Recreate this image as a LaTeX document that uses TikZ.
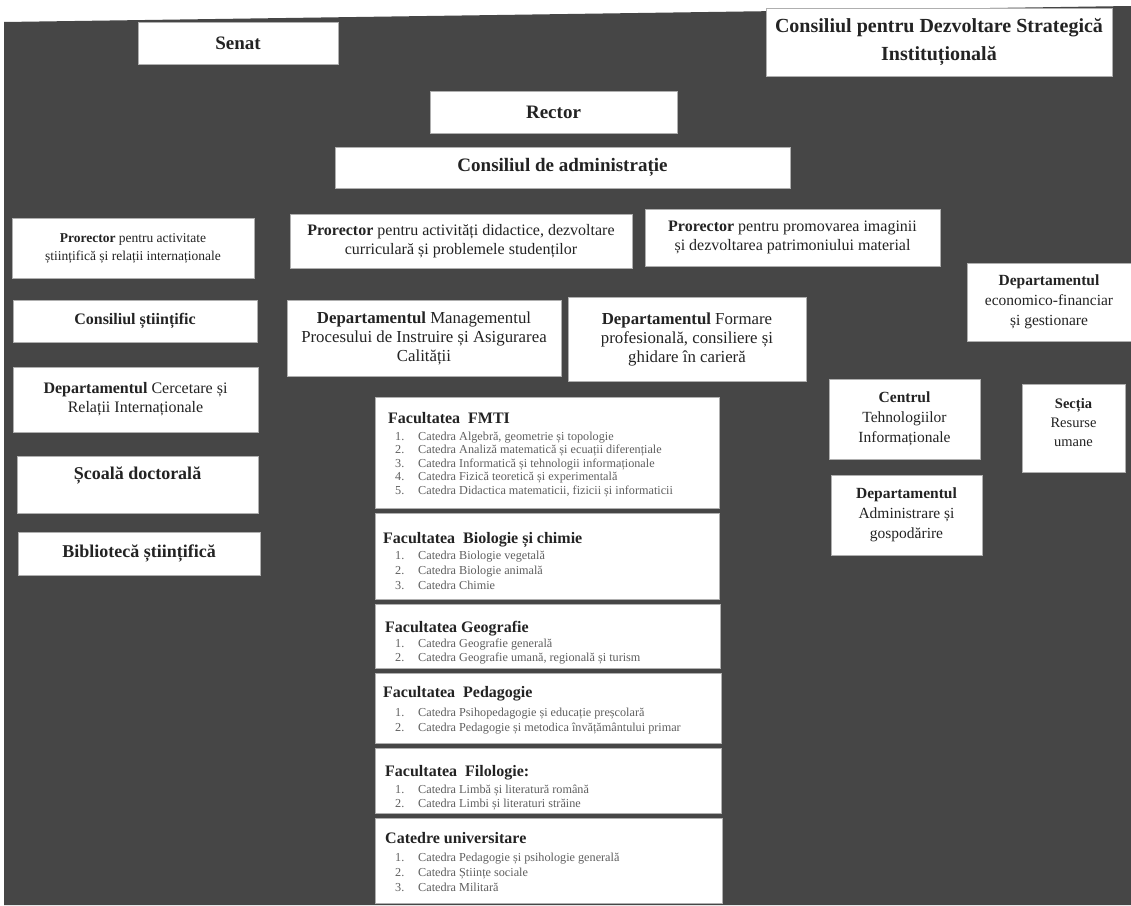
\documentclass[tikz,border=0pt]{standalone}
\usepackage{fontspec}
\setmainfont{Liberation Serif}
\definecolor{bg}{RGB}{70,70,70}
\definecolor{edge}{RGB}{175,175,175}
\definecolor{ink}{RGB}{35,35,35}
\definecolor{soft}{RGB}{95,95,95}
\tikzset{
  box/.style={draw=edge, line width=0.8pt, fill=white, inner sep=0pt, align=center, text=ink},
  ttl/.style={font=\fontsize{19}{28}\selectfont\bfseries},
  cpd/.style={font=\fontsize{20}{28}\selectfont\bfseries},
  prosmall/.style={font=\fontsize{13.5}{18}\selectfont},
  pro/.style={font=\fontsize{16}{19}\selectfont},
  lft/.style={font=\fontsize{16}{19}\selectfont},
  lftbig/.style={font=\fontsize{18}{20}\selectfont},
  mid/.style={font=\fontsize{16.8}{19}\selectfont},
  rgt/.style={font=\fontsize{15.5}{20}\selectfont},
  rgtsmall/.style={font=\fontsize{14.5}{19}\selectfont},
  ftitle/.style={anchor=base west, inner sep=0pt, text=ink, font=\fontsize{16}{17}\selectfont\bfseries},
  fitem/.style={anchor=base west, inner sep=0pt, text=soft, font=\fontsize{12.2}{13}\selectfont}
}
% \bx{name}{x1}{y1}{x2}{y2}{style}{text}
\newcommand\bx[7]{\node[box,#6,minimum width={(#4)-(#2)},minimum height={(#5)-(#3)}] (#1) at ({0.5*(#2+#4)},{0.5*(#3+#5)}) {#7};}
\newcommand\itm[2]{\makebox[23pt][l]{#1}#2}
\begin{document}
\begin{tikzpicture}[x=1pt,y=-1pt]
\useasboundingbox (0,0) rectangle (1131,905);
\fill[white] (0,0) rectangle (1131,905);
\fill[bg] (4,22) -- (1131,6) -- (1131,905) -- (4,905) -- cycle;

% top level
\bx{senat}{138}{22}{338}{64}{ttl}{Senat}
\bx{cpds}{766}{8}{1112}{76}{cpd}{Consiliul pentru Dezvoltare Strategică\\Instituțională}
\bx{rector}{430}{91}{677}{133}{ttl}{Rector}
\bx{cadm}{335}{147}{790}{188}{ttl}{Consiliul de administrație}

% prorectors
\bx{prl}{12}{218}{254}{278}{prosmall}{\textbf{Prorector} pentru activitate\\științifică și relații internaționale}
\bx{prm}{290}{214}{632}{268}{pro}{\textbf{Prorector} pentru activități didactice, dezvoltare\\curriculară și problemele studenților}
\bx{prr}{645}{209}{940}{266}{pro}{\textbf{Prorector} pentru promovarea imaginii\\și dezvoltarea patrimoniului material}

% left column
\bx{cst}{13}{300}{257}{342}{lft}{\textbf{Consiliul științific}}
\bx{dcr}{13}{367}{258}{432}{lft}{\textbf{Departamentul} Cercetare și\\Relații Internaționale}
\bx{sd}{17}{456}{258}{513}{lftbig}{}
\node[lftbig, text=ink, inner sep=0pt] (sdt) at ([yshift=9pt]sd.center) {\textbf{Școală doctorală}};
\bx{bib}{18}{532}{260}{575}{lftbig}{\textbf{Bibliotecă științifică}}

% middle departments
\bx{dmg}{287}{300}{561}{376}{mid}{\textbf{Departamentul} Managementul\\Procesului de Instruire și Asigurarea\\Calității}
\bx{dfp}{568}{297}{806}{381}{mid}{\textbf{Departamentul} Formare\\profesională, consiliere și\\ghidare în carieră}

% right column
\bx{def}{967}{263}{1131}{341}{rgt}{\textbf{Departamentul}\\economico-financiar\\și gestionare}
\bx{ctu}{829}{379}{980}{459}{rgt}{\textbf{Centrul}\\Tehnologiilor\\Informaționale}
\bx{sec}{1022}{384}{1125}{472}{rgtsmall}{}
\node[rgtsmall, text=ink, inner sep=0pt, align=center] (sect) at ([yshift=5pt]sec.center) {\textbf{Secția}\\Resurse\\umane};
\bx{dad}{831}{475}{982}{555}{rgt}{\textbf{Departamentul}\\Administrare și\\gospodărire}

% faculties
\bx{f1}{375}{397}{719}{508}{}{}
\node[ftitle] (f1t) at (388,423) {Facultatea\ \ FMTI};
\node[fitem] (f1a) at (395,440) {\itm{1.}{Catedra Algebră, geometrie și topologie}};
\node[fitem] (f1b) at (395,453.5) {\itm{2.}{Catedra Analiză matematică și ecuații diferențiale}};
\node[fitem] (f1c) at (395,467) {\itm{3.}{Catedra Informatică și tehnologii informaționale}};
\node[fitem] (f1d) at (395,480.5) {\itm{4.}{Catedra Fizică teoretică și experimentală}};
\node[fitem] (f1e) at (395,494) {\itm{5.}{Catedra Didactica matematicii, fizicii și informaticii}};

\bx{f2}{375}{513}{719}{599}{}{}
\node[ftitle] (f2t) at (383,543) {Facultatea\ \ Biologie și chimie};
\node[fitem] (f2a) at (395,559) {\itm{1.}{Catedra Biologie vegetală}};
\node[fitem] (f2b) at (395,574) {\itm{2.}{Catedra Biologie animală}};
\node[fitem] (f2c) at (395,589) {\itm{3.}{Catedra Chimie}};

\bx{f3}{375}{604}{720}{668}{}{}
\node[ftitle] (f3t) at (385,632) {Facultatea Geografie};
\node[fitem] (f3a) at (395,647) {\itm{1.}{Catedra Geografie generală}};
\node[fitem] (f3b) at (395,661) {\itm{2.}{Catedra Geografie umană, regională și turism}};

\bx{f4}{375}{673}{721}{743}{}{}
\node[ftitle] (f4t) at (383,697) {Facultatea\ \ Pedagogie};
\node[fitem] (f4a) at (395,716) {\itm{1.}{Catedra Psihopedagogie și educație preșcolară}};
\node[fitem] (f4b) at (395,731) {\itm{2.}{Catedra Pedagogie și metodica învățământului primar}};

\bx{f5}{375}{748}{721}{813}{}{}
\node[ftitle] (f5t) at (385,776) {Facultatea\ \ Filologie:};
\node[fitem] (f5a) at (395,793) {\itm{1.}{Catedra Limbă și literatură română}};
\node[fitem] (f5b) at (395,807) {\itm{2.}{Catedra Limbi și literaturi străine}};

\bx{f6}{375}{818}{722}{903}{}{}
\node[ftitle] (f6t) at (385,843) {Catedre universitare};
\node[fitem] (f6a) at (395,861) {\itm{1.}{Catedra Pedagogie și psihologie generală}};
\node[fitem] (f6b) at (395,876) {\itm{2.}{Catedra Științe sociale}};
\node[fitem] (f6c) at (395,891) {\itm{3.}{Catedra Militară}};
\end{tikzpicture}
\end{document}
